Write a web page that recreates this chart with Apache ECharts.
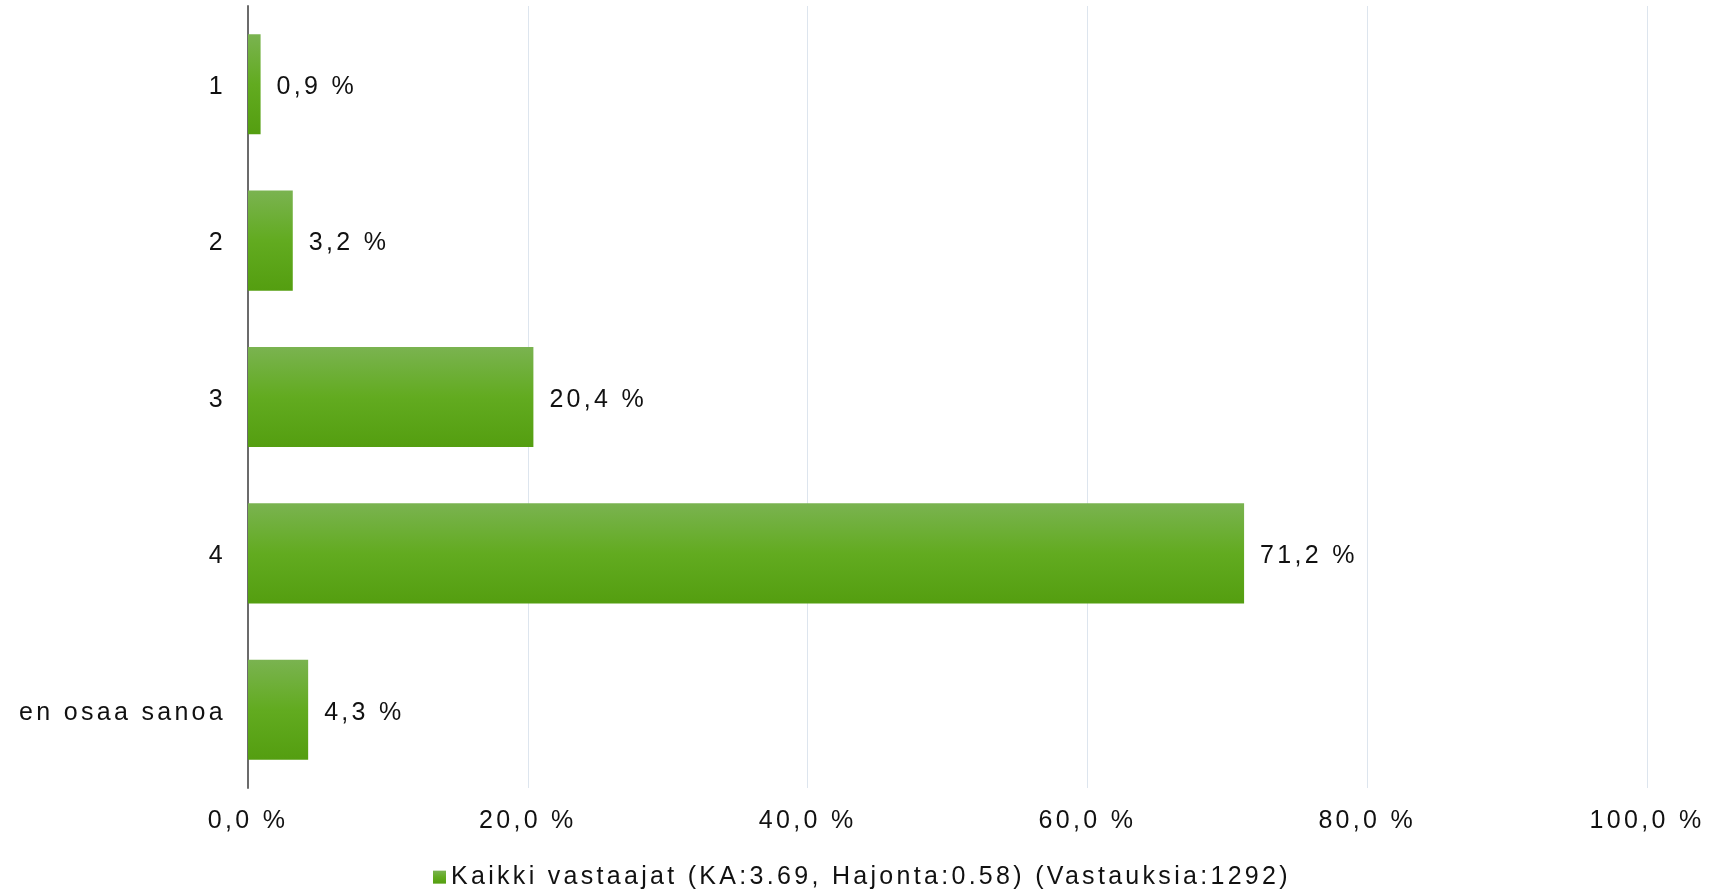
<!DOCTYPE html>
<html>
<head>
<meta charset="utf-8">
<script src="https://cdn.jsdelivr.net/npm/echarts@6/dist/echarts.min.js"></script>
<style>
html,body{margin:0;padding:0;background:#fff;}
#chart{width:1711px;height:892px;}
</style>
</head>
<body>
<div id="chart"></div>
<script>
// Letter spacing for canvas text (visual style of the reference)
(function(){
  var proto = CanvasRenderingContext2D.prototype;
  var f = proto.fillText, m = proto.measureText;
  proto.fillText = function(){ try{ this.letterSpacing = '3.3px'; }catch(e){} return f.apply(this, arguments); };
  proto.measureText = function(){ try{ this.letterSpacing = '3.3px'; }catch(e){} return m.apply(this, arguments); };
})();

var categories = ['1', '2', '3', '4', 'en osaa sanoa'];
var values = [0.9, 3.2, 20.4, 71.2, 4.3];
var seriesName = 'Kaikki vastaajat (KA:3.69, Hajonta:0.58) (Vastauksia:1292)';
var xTicks = [0, 20, 40, 60, 80, 100];

function pct(v){ return v.toFixed(1).replace('.', ',') + ' %'; }

var font = '"Liberation Sans", Arial, sans-serif';
var barGradient = new echarts.graphic.LinearGradient(0, 0, 0, 1, [
  {offset: 0, color: '#7AB350'},
  {offset: 0.5, color: '#62AB20'},
  {offset: 1, color: '#549E10'}
]);

var chart = echarts.init(document.getElementById('chart'), null, {renderer: 'canvas'});
chart.setOption({
  animation: false,
  backgroundColor: '#ffffff',
  textStyle: {fontFamily: font},
  grid: {left: 248, right: 64, top: 6, bottom: 104, containLabel: false},
  legend: {
    data: [seriesName],
    left: 433,
    top: 863,
    padding: 0,
    itemWidth: 13,
    itemHeight: 13,
    itemGap: 9,
    icon: 'rect',
    textStyle: {fontSize: 25, color: '#111', fontFamily: font}
  },
  xAxis: {
    type: 'value',
    min: xTicks[0],
    max: xTicks[xTicks.length - 1],
    interval: xTicks[1] - xTicks[0],
    axisLine: {show: false},
    axisTick: {show: false},
    splitLine: {show: true, lineStyle: {color: '#dde5ee', width: 1}},
    axisLabel: {
      formatter: function(v){ return pct(v); },
      fontSize: 25, color: '#111', margin: 19, fontFamily: font
    }
  },
  yAxis: {
    type: 'category',
    data: categories,
    inverse: true,
    axisLine: {show: true, lineStyle: {color: '#6b6b6b', width: 2}},
    axisTick: {show: false},
    splitLine: {show: false},
    axisLabel: {
      margin: 22,
      formatter: function(v){ return '{c|' + v + '}'; },
      rich: {c: {fontSize: 25, color: '#111', fontFamily: font, padding: [6, 0, 0, 0]}}
    }
  },
  series: [{
    name: seriesName,
    type: 'bar',
    data: values,
    barWidth: '64%',
    itemStyle: {color: barGradient},
    label: {
      show: true,
      position: 'right',
      distance: 16,
      offset: [0, 3],
      formatter: function(p){ return pct(p.value); },
      fontSize: 25,
      color: '#111',
      fontFamily: font
    }
  }]
});
</script>
</body>
</html>
